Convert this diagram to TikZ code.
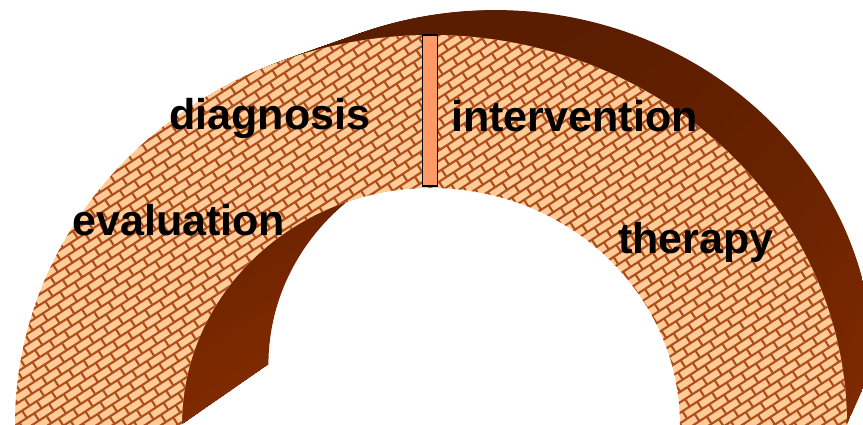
\documentclass[tikz,border=0pt]{standalone}
\usepackage{fontspec}
\setmainfont{Liberation Sans}
\usetikzlibrary{patterns.meta}
\definecolor{archFace}{HTML}{FFCC99}
\definecolor{archMortar}{HTML}{B04E1A}
\definecolor{archSide}{HTML}{7F2A00}
\definecolor{archTop}{HTML}{5A1D00}
\definecolor{archBar}{HTML}{FF9966}

% slanted brick tiles for the front face
\tikzdeclarepattern{
  name=slantbricks,
  type=uncolored,
  bottom left={(-.8pt,-.8pt)},
  top right={(10.8pt,10.8pt)},
  tile size={(10pt,10pt)},
  tile transformation={rotate=33},
  code={
    \draw[line width=1.2pt] (0,0) -- (10pt,0) (0,5pt) -- (10pt,5pt)
      (0,0) -- (0,5pt) (5pt,5pt) -- (5pt,10pt);
  }
}

% half ring: centre x, centre y, scale
\newcommand{\archring}[3]{%
  ({#1-416*#3},#2) arc[start angle=180, end angle=0,
    x radius={416*#3}, y radius={390*#3}]
  -- ({#1+249*#3},#2) arc[start angle=0, end angle=180,
    x radius={249*#3}, y radius={237*#3}] -- cycle}

\begin{document}
\begin{tikzpicture}[
  x=0.02cm, y=0.02cm,
  side/.style = {top color=archTop, middle color=archSide,
                 bottom color=archSide},
  face/.style = {fill=archFace,
                 postaction={pattern=slantbricks, pattern color=archMortar}},
  bar/.style = {draw=black, line width=0.9pt, fill=archBar, inner sep=0pt,
                minimum width=0.3cm, minimum height=3.02cm},
  stage/.style = {font=\fontsize{24.5}{28}\selectfont\bfseries,
                  inner sep=0pt, anchor=base west},
]
\useasboundingbox (0,0) rectangle (863,425);
\clip (0,0) rectangle (863,425);

% Extruded depth, back to front
\foreach \k in {60,...,1} {
  \pgfmathsetmacro\cx{431+64*\k/60}
  \pgfmathsetmacro\cy{60*\k/60}
  \pgfmathsetmacro\sc{1-0.09*\k/60}
  \path[side] \archring{\cx}{\cy}{\sc};
}

% Front face
\path[face] \archring{431}{0}{1};

% Divider
\node[bar] (divider) at (430,314.5) {};

% Labels
\node[stage] (diagnosis)    at (169,295) {diagnosis};
\node[stage] (intervention) at (451,293) {intervention};
\node[stage] (evaluation)   at (72,189)  {evaluation};
\node[stage] (therapy)      at (618,171) {therapy};

\end{tikzpicture}
\end{document}
